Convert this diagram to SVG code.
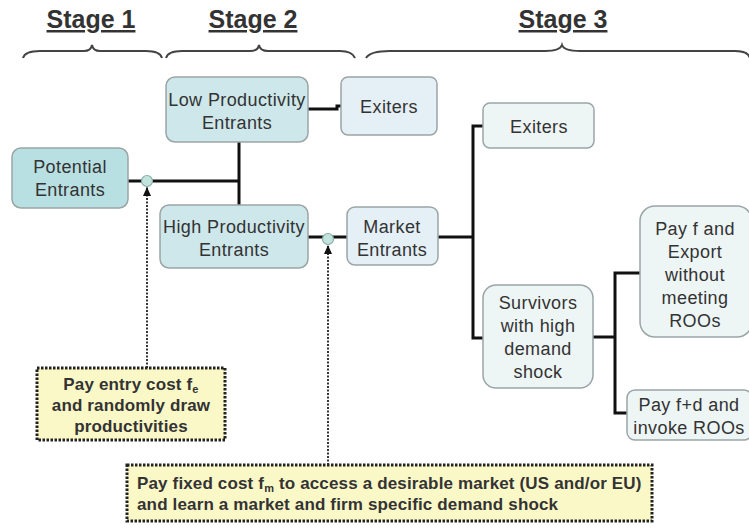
<svg xmlns="http://www.w3.org/2000/svg" width="749" height="529" viewBox="0 0 749 529">
<defs>
<marker id="arr" markerWidth="9" markerHeight="8" refX="9" refY="4" orient="auto" markerUnits="userSpaceOnUse">
<path d="M0,0 L9,4 L0,8 Z" fill="#111"/>
</marker>
</defs>
<style>
.title{font-family:"Liberation Sans",Arial,sans-serif;font-size:25px;font-weight:bold;fill:#333;text-anchor:middle;text-decoration:underline}
.brace{fill:none;stroke:#444;stroke-width:2}
.node rect{stroke:#9aa5a5;stroke-width:1.5}
.lbl{font-family:"Liberation Sans",Arial,sans-serif;font-size:18px;letter-spacing:0.4px;fill:#333;text-anchor:middle}
.c1{fill:#b8dfe1}
.c2{fill:#cde7ea}
.c3{fill:#e4eff6}
.c4{fill:#edf5f5}
.conn{fill:none;stroke:#111;stroke-width:3}
.dot{fill:none;stroke:#222;stroke-width:1.8;stroke-dasharray:2 1.5}
.junc{fill:#c3e4dc;stroke:#8aa;stroke-width:1.2}
.note{fill:#fbf8c8;stroke:#222;stroke-width:3;stroke-dasharray:2.5 1.5}
.ntxt{font-family:"Liberation Sans",Arial,sans-serif;font-size:17px;letter-spacing:0.15px;font-weight:bold;fill:#333}
</style>
<rect width="749" height="529" fill="#fff"/>

<g id="titles">
<text class="title" x="91" y="28">Stage 1</text>
<text class="title" x="253" y="28">Stage 2</text>
<text class="title" x="563" y="28">Stage 3</text>
</g>

<g id="braces">
<path class="brace" d="M23,58 Q25,51 40,51 L84,51 Q91,51 92,45 Q93,51 100,51 L146,51 Q160,51 162,58"/>
<path class="brace" d="M166,58 Q168,51 182,51 L250,51 Q258,51 259,45 Q260,51 268,51 L340,51 Q352,51 355,58"/>
<path class="brace" d="M366,58 Q370,51 390,51 L545,51 Q560,51 562,45 Q564,51 580,51 L735,51 Q748,51 750,58"/>
</g>

<g id="connectors">
<path class="conn" d="M128,181 H240"/>
<path class="conn" d="M239,142 V205"/>
<path class="conn" d="M308,109 H337 V106 H341"/>
<path class="conn" d="M308,237 H347"/>
<path class="conn" d="M438,237 H473"/>
<path class="conn" d="M483,126 H473 V338 H483"/>
<path class="conn" d="M593,337 H615"/>
<path class="conn" d="M640,273 H615 V413 H627"/>
<path class="dot" d="M147,368 V187" marker-end="url(#arr)"/>
<path class="dot" d="M328,465 V245" marker-end="url(#arr)"/>
<circle class="junc" cx="147" cy="181" r="5.5"/>
<circle class="junc" cx="328" cy="239" r="5.5"/>
</g>

<g id="potential-entrants" class="node">
<rect class="c1" x="12" y="148" width="116" height="60" rx="9"/>
<text class="lbl" x="70" y="173">Potential</text>
<text class="lbl" x="70" y="196">Entrants</text>
</g>

<g id="low-productivity" class="node">
<rect class="c2" x="166" y="77" width="142" height="65" rx="9"/>
<text class="lbl" x="237" y="106">Low Productivity</text>
<text class="lbl" x="237" y="129">Entrants</text>
</g>

<g id="exiters-2" class="node">
<rect class="c3" x="341" y="77" width="96" height="58" rx="7"/>
<text class="lbl" x="389" y="113">Exiters</text>
</g>

<g id="high-productivity" class="node">
<rect class="c2" x="160" y="205" width="148" height="63" rx="9"/>
<text class="lbl" x="234" y="233">High Productivity</text>
<text class="lbl" x="234" y="256">Entrants</text>
</g>

<g id="market-entrants" class="node">
<rect class="c3" x="347" y="207" width="91" height="58" rx="8"/>
<text class="lbl" x="392" y="233">Market</text>
<text class="lbl" x="392" y="256">Entrants</text>
</g>

<g id="exiters-3" class="node">
<rect class="c4" x="483" y="103" width="111" height="45" rx="7"/>
<text class="lbl" x="539" y="133">Exiters</text>
</g>

<g id="survivors" class="node">
<rect class="c4" x="483" y="285" width="110" height="103" rx="13"/>
<text class="lbl" x="538" y="309">Survivors</text>
<text class="lbl" x="538" y="332">with high</text>
<text class="lbl" x="538" y="355">demand</text>
<text class="lbl" x="538" y="378">shock</text>
</g>

<g id="pay-f" class="node">
<rect class="c4" x="640" y="206" width="112" height="131" rx="15"/>
<text class="lbl" x="695" y="235">Pay f and</text>
<text class="lbl" x="695" y="258">Export</text>
<text class="lbl" x="695" y="281">without</text>
<text class="lbl" x="695" y="304">meeting</text>
<text class="lbl" x="695" y="327">ROOs</text>
</g>

<g id="pay-fd" class="node">
<rect class="c4" x="627" y="390" width="125" height="50" rx="8"/>
<text class="lbl" x="689" y="411">Pay f+d and</text>
<text class="lbl" x="689" y="434">invoke ROOs</text>
</g>

<g id="note-entry">
<rect class="note" x="37" y="368" width="188" height="72"/>
<text class="ntxt" x="131" y="390" text-anchor="middle">Pay entry cost f<tspan font-size="11" dy="3">e</tspan></text>
<text class="ntxt" x="131" y="411" text-anchor="middle">and randomly draw</text>
<text class="ntxt" x="131" y="432" text-anchor="middle">productivities</text>
</g>

<g id="note-fixed">
<rect class="note" x="127" y="465" width="525" height="56"/>
<text class="ntxt" x="137" y="489">Pay fixed cost f<tspan font-size="11" dy="3">m</tspan><tspan dy="-3"> to access a desirable market (US and/or EU)</tspan></text>
<text class="ntxt" x="137" y="510">and learn a market and firm specific demand shock</text>
</g>
</svg>
